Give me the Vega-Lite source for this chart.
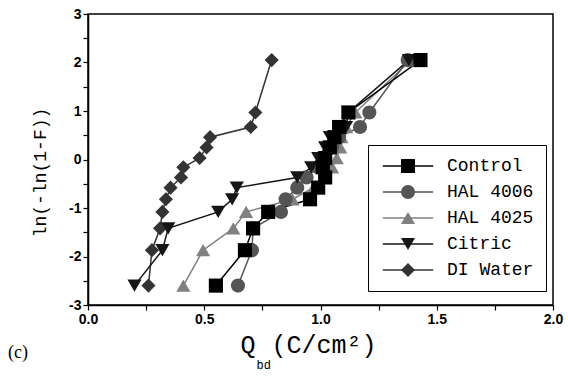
{
  "$schema": "https://vega.github.io/schema/vega-lite/v6.json",
  "width": 465,
  "height": 291,
  "autosize": {"type": "none"},
  "padding": {"left": 88, "top": 14, "right": 15, "bottom": 73},
  "background": "white",
  "title": {
    "text": "(c)",
    "orient": "bottom",
    "anchor": "start",
    "frame": "group",
    "font": "Liberation Serif",
    "fontSize": 18,
    "fontWeight": "normal",
    "color": "#000",
    "baseline": "alphabetic",
    "offset": 0,
    "dx": -80,
    "dy": -12
  },
  "config": {
    "view": {"stroke": "#000", "strokeWidth": 1.5},
    "axis": {
      "grid": false,
      "labelFont": "Liberation Sans",
      "labelFontWeight": "bold",
      "labelFontSize": 14,
      "labelColor": "#000",
      "tickColor": "#000",
      "tickWidth": 1.2,
      "tickSize": 5,
      "domainColor": "#000",
      "domainWidth": 1.5,
      "titleFont": "Liberation Mono",
      "titleFontWeight": "normal",
      "titleColor": "#000",
      "labelFlush": false,
      "labelOverlap": false
    },
    "legend": {
      "orient": "none",
      "legendX": 280,
      "legendY": 131,
      "title": null,
      "strokeWidth": 1,
      "padding": 12,
      "symbolSize": 196,
      "symbolStrokeWidth": 1.5,
      "symbolOffset": 19,
      "labelOffset": 30,
      "labelFont": "Liberation Mono",
      "labelFontSize": 18,
      "labelColor": "#000",
      "rowPadding": 8
    }
  },
  "data": {
    "values": [
      {"series": "DI Water", "x": 0.26, "y": -2.6},
      {"series": "DI Water", "x": 0.275, "y": -1.87},
      {"series": "DI Water", "x": 0.31, "y": -1.42},
      {"series": "DI Water", "x": 0.32, "y": -1.08},
      {"series": "DI Water", "x": 0.335, "y": -0.82},
      {"series": "DI Water", "x": 0.355, "y": -0.58},
      {"series": "DI Water", "x": 0.4, "y": -0.37},
      {"series": "DI Water", "x": 0.41, "y": -0.16},
      {"series": "DI Water", "x": 0.48, "y": 0.03},
      {"series": "DI Water", "x": 0.51, "y": 0.25},
      {"series": "DI Water", "x": 0.525, "y": 0.46},
      {"series": "DI Water", "x": 0.7, "y": 0.67},
      {"series": "DI Water", "x": 0.72, "y": 0.97},
      {"series": "DI Water", "x": 0.79, "y": 2.05},
      {"series": "HAL 4025", "x": 0.41, "y": -2.6},
      {"series": "HAL 4025", "x": 0.495, "y": -1.87},
      {"series": "HAL 4025", "x": 0.625, "y": -1.42},
      {"series": "HAL 4025", "x": 0.68, "y": -1.08},
      {"series": "HAL 4025", "x": 0.88, "y": -0.82},
      {"series": "HAL 4025", "x": 0.97, "y": -0.58},
      {"series": "HAL 4025", "x": 1.02, "y": -0.37},
      {"series": "HAL 4025", "x": 1.05, "y": -0.16},
      {"series": "HAL 4025", "x": 1.07, "y": 0.03},
      {"series": "HAL 4025", "x": 1.085, "y": 0.25},
      {"series": "HAL 4025", "x": 1.09, "y": 0.46},
      {"series": "HAL 4025", "x": 1.11, "y": 0.67},
      {"series": "HAL 4025", "x": 1.15, "y": 0.97},
      {"series": "HAL 4025", "x": 1.39, "y": 2.05},
      {"series": "HAL 4006", "x": 0.645, "y": -2.6},
      {"series": "HAL 4006", "x": 0.705, "y": -1.87},
      {"series": "HAL 4006", "x": 0.71, "y": -1.42},
      {"series": "HAL 4006", "x": 0.83, "y": -1.08},
      {"series": "HAL 4006", "x": 0.85, "y": -0.82},
      {"series": "HAL 4006", "x": 0.9, "y": -0.58},
      {"series": "HAL 4006", "x": 0.94, "y": -0.37},
      {"series": "HAL 4006", "x": 0.99, "y": -0.16},
      {"series": "HAL 4006", "x": 1.02, "y": 0.03},
      {"series": "HAL 4006", "x": 1.05, "y": 0.25},
      {"series": "HAL 4006", "x": 1.08, "y": 0.46},
      {"series": "HAL 4006", "x": 1.17, "y": 0.67},
      {"series": "HAL 4006", "x": 1.21, "y": 0.97},
      {"series": "HAL 4006", "x": 1.375, "y": 2.05},
      {"series": "Citric", "x": 0.2, "y": -2.6},
      {"series": "Citric", "x": 0.32, "y": -1.87},
      {"series": "Citric", "x": 0.345, "y": -1.42},
      {"series": "Citric", "x": 0.56, "y": -1.08},
      {"series": "Citric", "x": 0.62, "y": -0.82},
      {"series": "Citric", "x": 0.64, "y": -0.58},
      {"series": "Citric", "x": 0.9, "y": -0.37},
      {"series": "Citric", "x": 0.96, "y": -0.16},
      {"series": "Citric", "x": 0.99, "y": 0.03},
      {"series": "Citric", "x": 1.02, "y": 0.25},
      {"series": "Citric", "x": 1.04, "y": 0.46},
      {"series": "Citric", "x": 1.11, "y": 0.67},
      {"series": "Citric", "x": 1.12, "y": 0.97},
      {"series": "Citric", "x": 1.38, "y": 2.05},
      {"series": "Control", "x": 0.55, "y": -2.6},
      {"series": "Control", "x": 0.675, "y": -1.87},
      {"series": "Control", "x": 0.71, "y": -1.42},
      {"series": "Control", "x": 0.775, "y": -1.08},
      {"series": "Control", "x": 0.955, "y": -0.82},
      {"series": "Control", "x": 0.99, "y": -0.58},
      {"series": "Control", "x": 1.02, "y": -0.37},
      {"series": "Control", "x": 1.01, "y": -0.16},
      {"series": "Control", "x": 1.02, "y": 0.03},
      {"series": "Control", "x": 1.04, "y": 0.25},
      {"series": "Control", "x": 1.06, "y": 0.46},
      {"series": "Control", "x": 1.08, "y": 0.67},
      {"series": "Control", "x": 1.12, "y": 0.97},
      {"series": "Control", "x": 1.43, "y": 2.05}
    ]
  },
  "layer": [
    {
      "mark": {"type": "line", "strokeWidth": 1.5},
      "encoding": {
        "x": {
          "field": "x", "type": "quantitative",
          "scale": {"domain": [0, 2], "nice": false, "zero": false},
          "axis": {
            "orient": "bottom",
            "values": [0, 0.25, 0.5, 0.75, 1, 1.25, 1.5, 1.75, 2],
            "labelExpr": "(datum.value * 2) % 1 === 0 ? format(datum.value, '.1f') : ''",
            "labelPadding": 2,
            "title": "Q",
            "titleFontSize": 25,
            "titleAlign": "left",
            "titleBaseline": "alphabetic",
            "titleX": 152,
            "titleY": 47
          }
        },
        "y": {
          "field": "y", "type": "quantitative",
          "scale": {"domain": [-3, 3], "nice": false, "zero": false},
          "axis": {
            "orient": "left",
            "values": [-3, -2.5, -2, -1.5, -1, -0.5, 0, 0.5, 1, 1.5, 2, 2.5, 3],
            "labelExpr": "datum.value % 1 === 0 ? '' + datum.value : ''",
            "labelPadding": 2,
            "labelBaseline": "middle",
            "title": "ln(-ln(1-F))",
            "titleFontSize": 18,
            "titleAngle": -90,
            "titleAlign": "center",
            "titleBaseline": "middle",
            "titleX": -48,
            "titleY": 158
          }
        },
        "stroke": {
          "field": "series", "type": "nominal",
          "scale": {
            "domain": ["Control", "HAL 4006", "HAL 4025", "Citric", "DI Water"],
            "range": ["#000000", "#555555", "#808080", "#151515", "#333333"]
          },
          "legend": {
            "symbolType": "M-3.6,0H3.6",
            "strokeColor": "#000",
            "fillColor": "white"
          }
        },
        "order": {"field": "y", "type": "quantitative"}
      }
    },
    {
      "mark": {"type": "point", "filled": true, "opacity": 1, "size": 200},
      "encoding": {
        "x": {"field": "x", "type": "quantitative", "axis": null},
        "y": {"field": "y", "type": "quantitative", "axis": null},
        "color": {
          "field": "series", "type": "nominal",
          "scale": {
            "domain": ["DI Water", "Citric", "HAL 4025", "HAL 4006", "Control"],
            "range": ["#333333", "#151515", "#808080", "#555555", "#000000"]
          },
          "legend": {
            "values": ["Control", "HAL 4006", "HAL 4025", "Citric", "DI Water"],
            "labelOpacity": 0,
            "strokeColor": "transparent",
            "fillColor": "transparent"
          }
        },
        "shape": {
          "field": "series", "type": "nominal",
          "scale": {
            "domain": ["DI Water", "Citric", "HAL 4025", "HAL 4006", "Control"],
            "range": ["diamond", "triangle-down", "triangle-up", "circle", "square"]
          },
          "legend": {
            "values": ["Control", "HAL 4006", "HAL 4025", "Citric", "DI Water"],
            "labelOpacity": 0,
            "strokeColor": "transparent",
            "fillColor": "transparent"
          }
        }
      }
    },
    {
      "mark": {"type": "point", "opacity": 0},
      "encoding": {
        "x": {
          "field": "x", "type": "quantitative",
          "axis": {
            "orient": "top",
            "labels": false,
            "ticks": false,
            "domain": false,
            "title": "bd",
            "titleFont": "Liberation Mono",
            "titleFontSize": 12,
            "titleAngle": 0,
            "titleAlign": "left",
            "titleBaseline": "alphabetic",
            "titleX": 168,
            "titleY": 354
          }
        },
        "y": {
          "field": "y", "type": "quantitative",
          "axis": {
            "orient": "right",
            "labels": false,
            "ticks": false,
            "domain": false,
            "title": "(C/cm²)",
            "titleFont": "Liberation Mono",
            "titleFontSize": 25,
            "titleAngle": 0,
            "titleAlign": "left",
            "titleBaseline": "alphabetic",
            "titleX": -282,
            "titleY": 338
          }
        }
      }
    }
  ],
  "resolve": {"axis": {"x": "independent", "y": "independent"}}
}
